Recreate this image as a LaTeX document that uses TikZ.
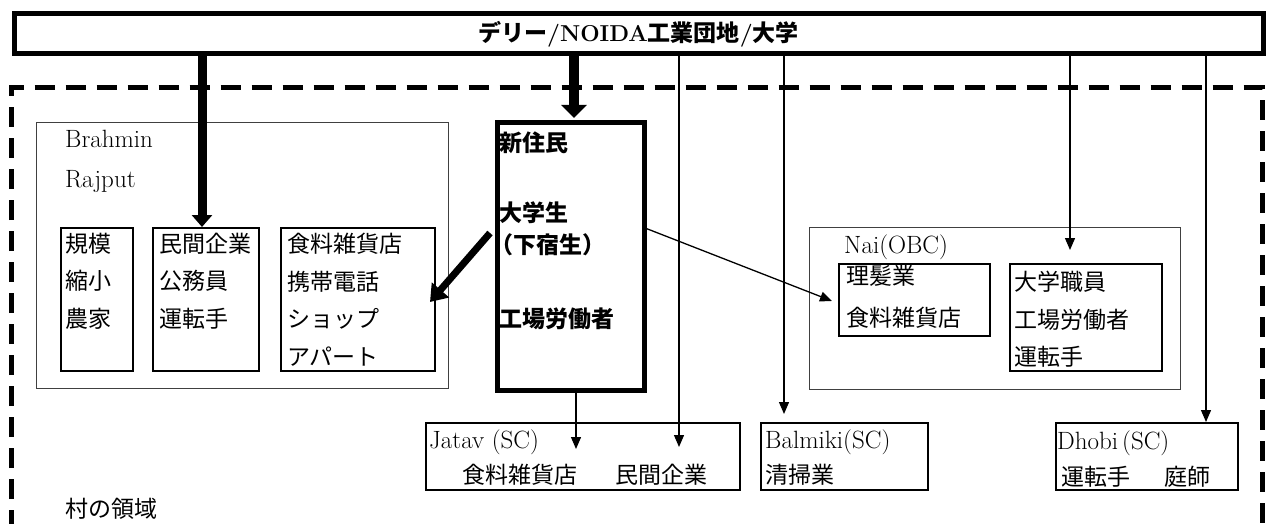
\documentclass[tikz,border=0pt]{standalone}
\usepackage{fontspec}
\newfontfamily\jp{Noto Sans CJK JP}
\usetikzlibrary{arrows.meta,calc}
\begin{document}
\begin{tikzpicture}[x=1pt,y=-1pt,
  jt/.style={font=\jp\fontsize{23}{37.5}\selectfont, inner sep=0pt, anchor=west, align=left},
  jb/.style={font=\jp\bfseries\fontsize{23}{30}\selectfont, inner sep=0pt, anchor=west},
  lt/.style={font=\fontsize{25}{30}\selectfont, inner sep=0pt, anchor=base west},
  obox/.style={draw=black!75, line width=1.3pt, inner sep=0pt, anchor=north west},
  ibox/.style={draw=black, line width=1.7pt, inner sep=0pt, anchor=north west},
  heavybox/.style={draw=black, line width=5pt, inner sep=0pt, anchor=north west},
  region/.style={line width=5pt, dash pattern=on 20pt off 11pt},
  thin/.style={line width=1.3pt, -{Triangle[width=10pt,length=12pt]}},
  fatA/.style={line width=9pt, -{Triangle[width=20pt,length=12pt]}},
  fatB/.style={line width=10pt, -{Triangle[width=25pt,length=13pt]}},
  fatC/.style={line width=7pt, -{Triangle[width=22pt,length=16pt]}}
]
\useasboundingbox (0,0) rectangle (1266,524);

% village region (dashed, open at bottom)
\draw[region] (11.7,530) -- (11.7,88) -- (1262.5,88) -- (1262.5,530);

% top bar
\node[heavybox, minimum width=1249pt, minimum height=40pt] (bar) at (11.5,11.5) {};
\node[inner sep=0pt, font=\fontsize{23}{26}\selectfont] (bartxt) at (bar.center)
  {{\jp\bfseries デリー}{\bfseries/NOIDA}{\jp\bfseries 工業団地}{\bfseries/}{\jp\bfseries 大学}};

% Brahmin / Rajput
\node[obox, minimum width=412.3pt, minimum height=266.3pt] (brah) at (35.7,121.7) {};
\node[lt] (brahT1) at (65,148) {Brahmin};
\node[lt] (brahT2) at (65,187) {Rajput};
\node[ibox, minimum width=72pt, minimum height=143pt] (b1) at (60,227) {};
\node[ibox, minimum width=106pt, minimum height=143pt] (b2) at (152,227) {};
\node[ibox, minimum width=154pt, minimum height=143pt] (b3) at (280,227) {};
\node[jt] (b1t) at (65,281) {規模\\縮小\\農家};
\node[jt] (b2t) at (159,281) {民間企業\\公務員\\運転手};
\node[jt] (b3t) at (287,299.5) {食料雑貨店\\携帯電話\\ショップ\\アパート};

% new residents
\node[heavybox, minimum width=147pt, minimum height=267pt] (cen) at (494.5,120.5) {};
\node[jb] (c1) at (499,143) {新住民};
\node[jb] (c2) at (499,213) {大学生};
\node[jb] (c3) at (490,245) {（下宿生）};
\node[jb] (c4) at (499,319) {工場労働者};

% Nai
\node[obox, minimum width=371pt, minimum height=162pt] (nai) at (809,227) {};
\node[lt] (naiT) at (844,253) {Nai(OBC)};
\node[ibox, minimum width=151pt, minimum height=72pt] (n1) at (838,263) {};
\node[ibox, minimum width=152pt, minimum height=107pt] (n2) at (1009,263) {};
\node[jt, font=\jp\fontsize{23}{42}\selectfont] (n1t) at (846,297) {理髪業\\食料雑貨店};
\node[jt] (n2t) at (1014,319.5) {大学職員\\工場労働者\\運転手};

% SC boxes
\node[ibox, line width=1.5pt, minimum width=314pt, minimum height=67pt] (jat) at (425,422) {};
\node[ibox, line width=1.5pt, minimum width=167pt, minimum height=67pt] (bal) at (760,422) {};
\node[ibox, line width=1.5pt, minimum width=182pt, minimum height=67pt] (dho) at (1055,422) {};
\node[lt] (jatT) at (429,448) {Jatav (SC)};
\node[jt] (jat1) at (462,475) {食料雑貨店};
\node[jt] (jat2) at (615,475) {民間企業};
\node[lt] (balT) at (765,448) {Balmiki(SC)};
\node[jt] (bal1) at (765,475) {清掃業};
\node[lt] (dhoT) at (1057,449) {Dhobi\kern4pt(SC)};
\node[jt] (dho1) at (1061,477) {運転手};
\node[jt] (dho2) at (1164,477) {庭師};

\node[jt] (village) at (65,509) {村の領域};

% arrow end points
\coordinate (a1) at (202,227);
\coordinate (a2) at (574,118);
\coordinate (a3s) at (490,233);
\coordinate (a3t) at (430,302);
\coordinate (a4s) at (645,228);
\coordinate (a4t) at (832,301);
\coordinate (v1) at (576,449);
\coordinate (v2) at (679,447);
\coordinate (v3) at (784,414);
\coordinate (v4) at (1070,250);
\coordinate (v5) at (1206,422);

% connectors
\draw[fatA] (bar.south -| a1) -- (a1);
\draw[fatB] (bar.south -| a2) -- (a2);
\draw[fatC] (a3s) -- (a3t);
\draw[thin] (a4s) -- (a4t);
\draw[thin] (cen.south -| v1) -- (v1);
\draw[thin] (bar.south -| v2) -- (v2);
\draw[thin] (bar.south -| v3) -- (v3);
\draw[thin] (bar.south -| v4) -- (v4);
\draw[thin] (bar.south -| v5) -- (v5);
\end{tikzpicture}
\end{document}
